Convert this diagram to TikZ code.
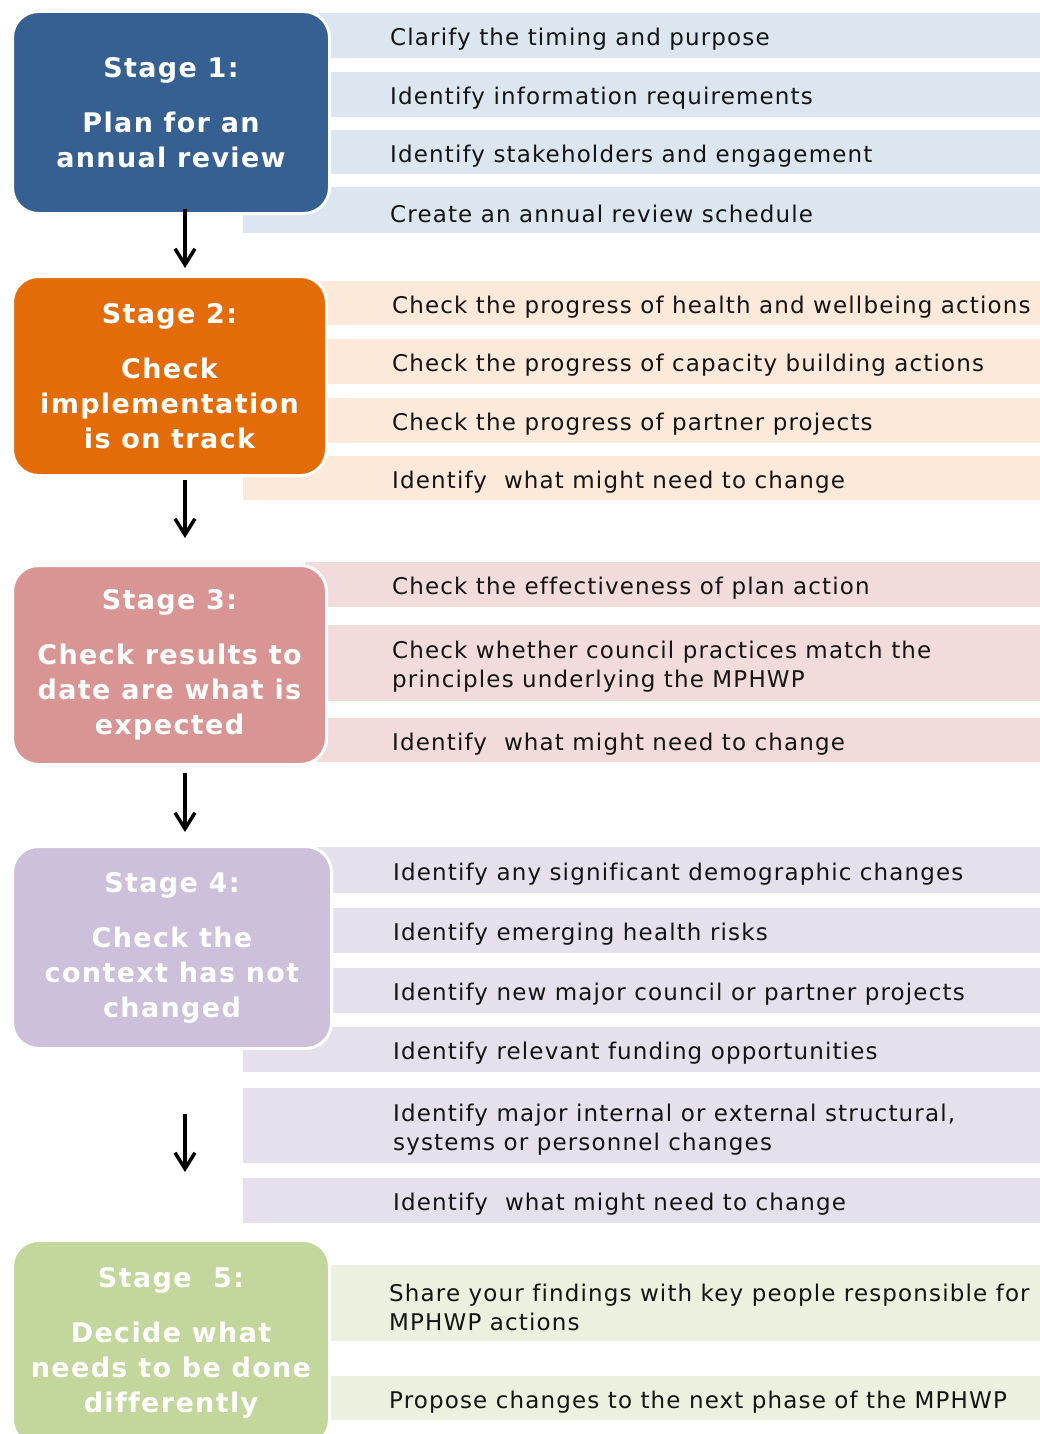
\documentclass[tikz,border=0pt]{standalone}
\usepackage{fontspec}
\setmainfont{DejaVu Sans}
\newfontfamily\itemfont[LetterSpace=5,Ligatures=NoCommon]{DejaVu Sans}
\newfontfamily\stagefont[LetterSpace=5,Ligatures=NoCommon]{DejaVu Sans}
\usetikzlibrary{arrows.meta}

% stage palette: dark box colour and light bar colour
\definecolor{sAdark}{HTML}{366092}
\definecolor{sAlight}{HTML}{DCE6F1}
\definecolor{sBdark}{HTML}{E36C09}
\definecolor{sBlight}{HTML}{FDE9D9}
\definecolor{sCdark}{HTML}{D99594}
\definecolor{sClight}{HTML}{F2DCDB}
\definecolor{sDdark}{HTML}{CCC0DA}
\definecolor{sDlight}{HTML}{E5E0EC}
\definecolor{sEdark}{HTML}{C3D69B}
\definecolor{sElight}{HTML}{EBF1DE}
\definecolor{itemink}{HTML}{141414}

\tikzset{
  stagebox/.style={rectangle, rounded corners=26pt, draw=white, line width=3pt,
    text=white, align=center, inner sep=0pt, anchor=north west,
    font=\stagefont\bfseries\fontsize{27}{35}\selectfont},
  bar/.style={rectangle, inner sep=0pt, draw=none, anchor=north west},
  itemtxt/.style={anchor=west, inner sep=0pt, align=left, text=itemink,
    font=\itemfont\fontsize{23}{29}\selectfont},
  flow/.style={line width=3.5pt, -{Straight Barb[length=16pt,width=20pt]}}
}

% #1 name, #2 fill, #3 left x, #4 top y, #5 bottom y, #6 text x, #7 text
\newcommand\itembar[7]{%
  \node[bar, fill=#2, minimum width={(1040-#3)*1pt}, minimum height={(#5-#4)*1pt}] (#1) at (#3,#4) {};
  \node[itemtxt] (#1-txt) at (#6,{(#4+#5)/2+4}) {#7};
}

\begin{document}
\begin{tikzpicture}[x=1pt,y=-1pt]
\useasboundingbox (0,0) rectangle (1040,1434);
\clip (0,0) rectangle (1040,1434);

% ---- Stage 1 ----
\itembar{b11}{sAlight}{318}{13}{58}{390}{Clarify the timing and purpose}
\itembar{b12}{sAlight}{318}{72}{117}{390}{Identify information requirements}
\itembar{b13}{sAlight}{318}{130}{174}{390}{Identify stakeholders and engagement}
\itembar{b14}{sAlight}{243}{187}{233}{390}{Create an annual review schedule}
\node[stagebox, fill=sAdark, minimum width=317pt, minimum height=202pt] (s1) at (11,10)
  {Stage 1:\\[20pt]Plan for an\\annual review};

% ---- Stage 2 ----
\itembar{b21}{sBlight}{316}{281}{325}{392}{Check the progress of health and wellbeing actions}
\itembar{b22}{sBlight}{316}{339}{384}{392}{Check the progress of capacity building actions}
\itembar{b23}{sBlight}{316}{398}{443}{392}{Check the progress of partner projects}
\itembar{b24}{sBlight}{243}{456}{500}{392}{Identify\ \ what might need to change}
\node[stagebox, fill=sBdark, minimum width=314pt, minimum height=199pt] (s2) at (11,275)
  {Stage 2:\\[20pt]Check\\implementation\\is on track};

% ---- Stage 3 ----
\itembar{b31}{sClight}{305}{562}{607}{392}{Check the effectiveness of plan action}
\itembar{b32}{sClight}{305}{625}{701}{392}{Check whether council practices match the\\principles underlying the MPHWP}
\itembar{b33}{sClight}{305}{718}{762}{392}{Identify\ \ what might need to change}
\node[stagebox, fill=sCdark, minimum width=314pt, minimum height=199pt] (s3) at (11,564)
  {Stage 3:\\[20pt]Check results to\\date are what is\\expected};

% ---- Stage 4 ----
\itembar{b41}{sDlight}{315}{847}{893}{393}{Identify any significant demographic changes}
\itembar{b42}{sDlight}{315}{908}{953}{393}{Identify emerging health risks}
\itembar{b43}{sDlight}{315}{968}{1013}{393}{Identify new major council or partner projects}
\itembar{b44}{sDlight}{243}{1027}{1072}{393}{Identify relevant funding opportunities}
\itembar{b45}{sDlight}{243}{1088}{1163}{393}{Identify major internal or external structural,\\systems or personnel changes}
\itembar{b46}{sDlight}{243}{1178}{1223}{393}{Identify\ \ what might need to change}
\node[stagebox, fill=sDdark, minimum width=319pt, minimum height=202pt] (s4) at (11,845)
  {Stage 4:\\[20pt]Check the\\context has not\\changed};

% ---- Stage 5 ----
\itembar{b51}{sElight}{318}{1265}{1341}{389}{Share your findings with key people responsible for\\MPHWP actions}
\itembar{b52}{sElight}{318}{1376}{1420}{389}{Propose changes to the next phase of the MPHWP}
\node[stagebox, fill=sEdark, minimum width=317pt, minimum height=205pt] (s5) at (11,1239)
  {Stage\ \ 5:\\[20pt]Decide what\\needs to be done\\differently};

% ---- flow arrows between stages ----
\coordinate (a1s) at (185,209);  \coordinate (a1e) at (185,268);
\coordinate (a2s) at (185,480);  \coordinate (a2e) at (185,538);
\coordinate (a3s) at (185,773);  \coordinate (a3e) at (185,832);
\coordinate (a4s) at (185,1114); \coordinate (a4e) at (185,1172);
\draw[flow] (a1s) -- (a1e);
\draw[flow] (a2s) -- (a2e);
\draw[flow] (a3s) -- (a3e);
\draw[flow] (a4s) -- (a4e);
\end{tikzpicture}
\end{document}
